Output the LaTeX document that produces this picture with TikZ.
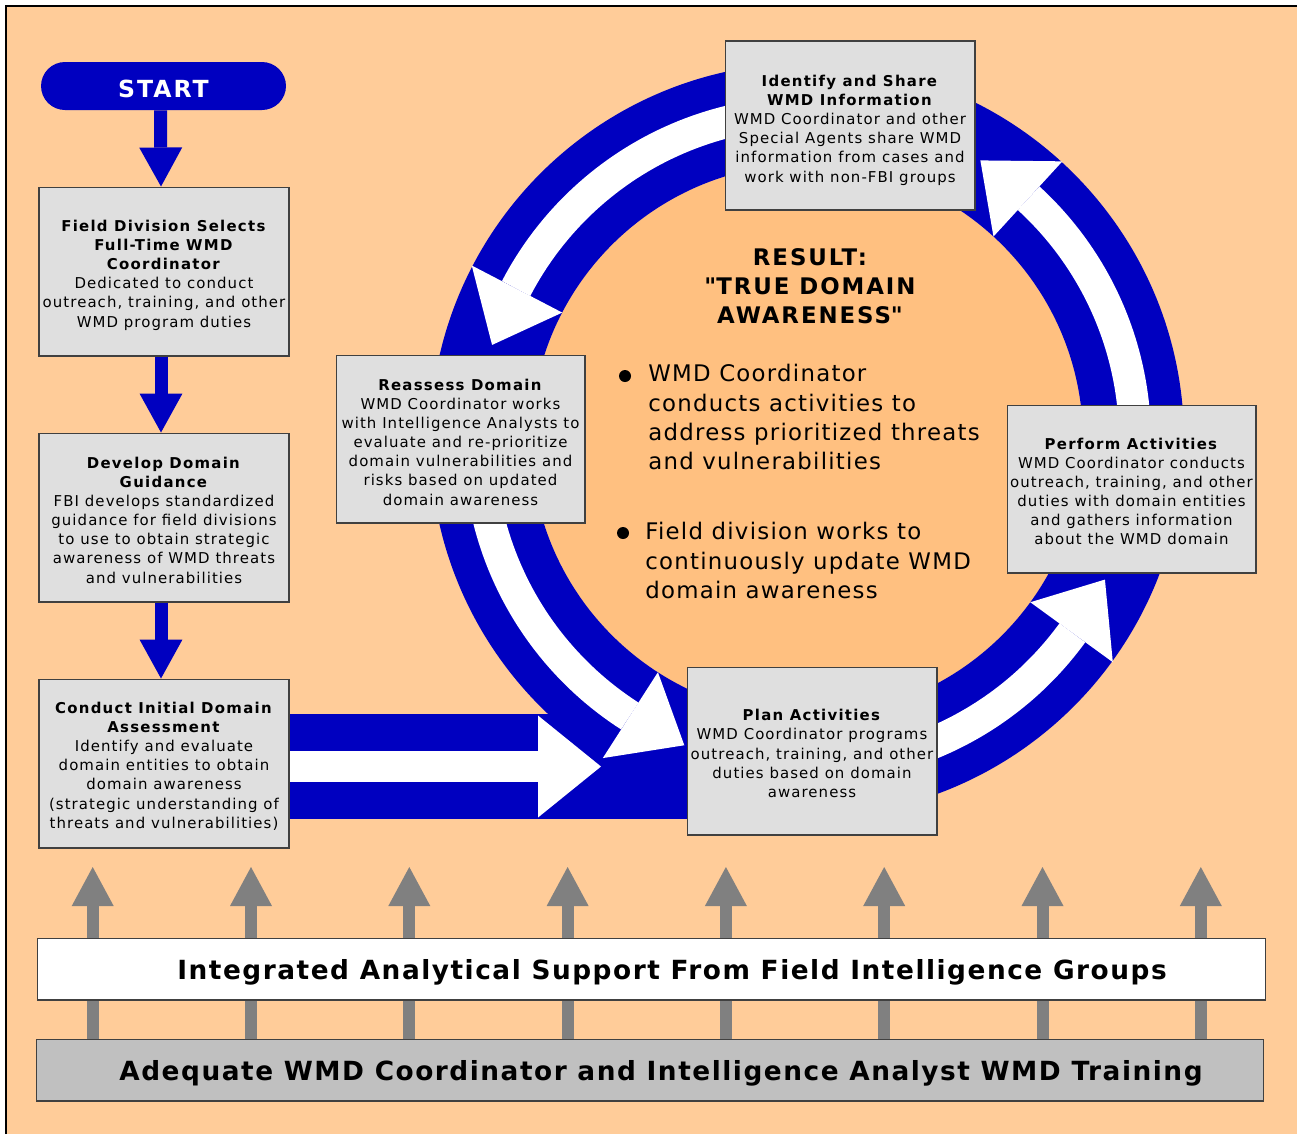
\documentclass[tikz,border=0pt]{standalone}
\usepackage{fontspec}
\setmainfont{DejaVu Sans}[LetterSpace=7.2,BoldFeatures={LetterSpace=8.5}]
\newfontfamily\qfont{DejaVu Sans}[LetterSpace=8.5]
\newfontfamily\barfont{DejaVu Sans}[LetterSpace=5.8,BoldFeatures={LetterSpace=5.8}]
\newfontfamily\bulfont{DejaVu Sans}[LetterSpace=5.5]
\usetikzlibrary{arrows.meta,calc}
\pgfdeclarelayer{bg}
\pgfsetlayers{bg,main}
\definecolor{bgorange}{HTML}{FFCC99}
\definecolor{innerorange}{HTML}{FFC080}
\definecolor{ringblue}{HTML}{0000C0}
\definecolor{boxgray}{HTML}{DFDFDF}
\definecolor{boxline}{HTML}{404040}
\definecolor{arrgray}{HTML}{808080}
\definecolor{bargray}{HTML}{C0C0C0}
\newcommand\boxfont{\fontsize{8.5}{10.9}\selectfont}
\newcommand\qq{{\qfont"}}
\begin{document}
\begin{tikzpicture}[x=0.02cm,y=-0.02cm,
  stepbox/.style={draw=boxline, line width=0.6pt, fill=boxgray, minimum width=5cm,
    minimum height=3.38cm, inner sep=0pt},
  boxtext/.style={inner sep=0pt, align=center, font=\boxfont},
  startbox/.style={fill=ringblue, text=white, rounded corners=0.48cm, minimum width=4.9cm,
    minimum height=0.96cm, inner sep=0pt, text height=0.454cm, text depth=0cm,
    font=\fontsize{13.4}{16}\bfseries},
  bluearrow/.style={draw=ringblue, line width=0.26cm,
    -{Triangle[width=0.86cm,length=0.78cm,line width=0pt,fill=ringblue]}},
  whitearrow/.style={draw=white, line width=0.62cm,
    -{Triangle[width=2.04cm,length=1.26cm,line width=0pt,fill=white]}},
  grayarrow/.style={draw=arrgray, line width=0.24cm,
    -{Triangle[width=0.84cm,length=0.78cm,line width=0pt,fill=arrgray]}},
  barbox/.style={draw=boxline, line width=0.6pt, minimum height=1.24cm, inner sep=0pt},
  bartext/.style={inner sep=0pt, anchor=base, font=\barfont\fontsize{15}{18}\bfseries},
  dot/.style={circle, fill=black, inner sep=0pt, minimum size=0.24cm},
  bullettext/.style={anchor=north west, inner sep=0pt, align=left,
    font=\bulfont\fontsize{13}{16.7}\selectfont}
]
\useasboundingbox (0,0) rectangle (1297,1134);

% ---------- boxes ----------
\node[startbox] (start) at (163.5,86) {START};
\node[stepbox] (fds) at (164,271.5) {};
\node[boxtext] (fdst) at ([yshift=-0.07cm]fds.center) {\textbf{Field Division Selects}\\\textbf{Full-Time WMD}\\\textbf{Coordinator}\\Dedicated to conduct\\outreach, training, and other\\WMD program duties};
\node[stepbox] (ddg) at (164,517.5) {};
\node[boxtext] (ddgt) at ([yshift=-0.05cm]ddg.center) {\textbf{Develop Domain}\\\textbf{Guidance}\\FBI develops standardized\\guidance for field divisions\\to use to obtain strategic\\awareness of WMD threats\\and vulnerabilities};
\node[stepbox] (cida) at (164,763.5) {};
\node[boxtext] (cidat) at ([yshift=-0.05cm]cida.center) {\textbf{Conduct Initial Domain}\\\textbf{Assessment}\\Identify and evaluate\\domain entities to obtain\\domain awareness\\(strategic understanding of\\threats and vulnerabilities)};
\node[stepbox, minimum width=4.98cm, minimum height=3.36cm] (rd) at (460.5,439) {};
\node[boxtext] (rdt) at ([yshift=-0.06cm]rd.center) {\textbf{Reassess Domain}\\WMD Coordinator works\\with Intelligence Analysts to\\evaluate and re-prioritize\\domain vulnerabilities and\\risks based on updated\\domain awareness};
\node[stepbox] (isw) at (850,125.5) {};
\node[boxtext] (iswt) at ([yshift=-0.09cm]isw.center) {\textbf{Identify and Share}\\\textbf{WMD Information}\\WMD Coordinator and other\\Special Agents share WMD\\information from cases and\\work with non-FBI groups};
\node[stepbox, minimum width=4.98cm, minimum height=3.36cm] (pa) at (1131.5,489) {};
\node[boxtext] (pat) at ([yshift=-0.05cm]pa.center) {\textbf{Perform Activities}\\WMD Coordinator conducts\\outreach, training, and other\\duties with domain entities\\and gathers information\\about the WMD domain};
\node[stepbox, minimum height=3.36cm] (pl) at (812,751) {};
\node[boxtext] (plt) at ([yshift=-0.05cm]pl.center) {\textbf{Plan Activities}\\WMD Coordinator programs\\outreach, training, and other\\duties based on domain\\awareness};

% ---------- centre text ----------
\node[anchor=north, inner sep=0pt, align=center, font=\fontsize{13}{16.6}\bfseries] (res) at (810,248) {RESULT:\\\qq TRUE DOMAIN\\AWARENESS\qq};
\node[dot] (b1) at (625,376) {};
\node[bullettext] (t1) at (648,364) {WMD Coordinator\\conducts activities to\\address prioritized threats\\and vulnerabilities};
\node[dot] (b2) at (623,533) {};
\node[bullettext] (t2) at (645,522) {Field division works to\\continuously update WMD\\domain awareness};

% ---------- bottom bars ----------
\node[barbox, fill=white, minimum width=24.58cm] (iasbar) at (651.5,969) {};
\node[bartext] (iastext) at (672,979.5) {Integrated Analytical Support From Field Intelligence Groups};
\node[barbox, fill=bargray, minimum width=24.56cm] (trbar) at (650,1070) {};
\node[bartext] (trtext) at (661,1080) {Adequate WMD Coordinator and Intelligence Analyst WMD Training};

% ---------- connectors on main layer ----------
\draw[bluearrow] ([xshift=-0.06cm]start.south) -- ([xshift=-0.06cm]fds.north);
\draw[bluearrow] ([xshift=-0.06cm]fds.south) -- ([xshift=-0.06cm]ddg.north);
\draw[bluearrow] ([xshift=-0.06cm]ddg.south) -- ([xshift=-0.06cm]cida.north);

% ---------- background layer ----------
\begin{pgfonlayer}{bg}
\fill[white] (0,0) rectangle (1297,1134);
\fill[bgorange] (6,6) rectangle (1297,1134);
\draw[line width=0.04cm] (6,1134) -- (6,6) -- (1297,6);
\coordinate (c) at (807,440);
\fill[innerorange] (c) circle[radius=276];
\fill[ringblue] (cida.east |- 0,714) rectangle (pl.west |- 0,819);
\fill[ringblue, even odd rule] (c) circle[radius=377] (c) circle[radius=276];
\begin{scope}[shift={(807,440)}]
  \draw[white, line width=0.64cm] plot[domain=-80:-152.5, samples=60] (\x:328);
  \draw[white, line width=0.64cm] plot[domain=10:-47.5, samples=60] (\x:328);
  \draw[white, line width=0.64cm] plot[domain=70:36, samples=40] (\x:328);
  \draw[white, line width=0.64cm] plot[domain=170:122.7, samples=40] (\x:328);
  \fill[white] (-152.5:276) -- (-152.5:378) -- (-163.2:329) -- cycle;
  \fill[white] (-47.5:276) -- (-47.5:378) -- (-58.2:329) -- cycle;
  \fill[white] (36:276) -- (36:378) -- (25.1:329) -- cycle;
  \fill[white] (122.7:276) -- (122.7:378) -- (111.9:329) -- cycle;
\end{scope}
\coordinate (htip) at (601,766.5);
\draw[whitearrow] (cida.east |- htip) -- (htip);
\foreach \i in {0,...,7} {
  \pgfmathsetmacro\xx{92.7+158.3*\i}
  \coordinate (gt\i) at (\xx,867);
  \draw[grayarrow] (trbar.north -| gt\i) -- (gt\i);
}
\end{pgfonlayer}
\end{tikzpicture}
\end{document}
